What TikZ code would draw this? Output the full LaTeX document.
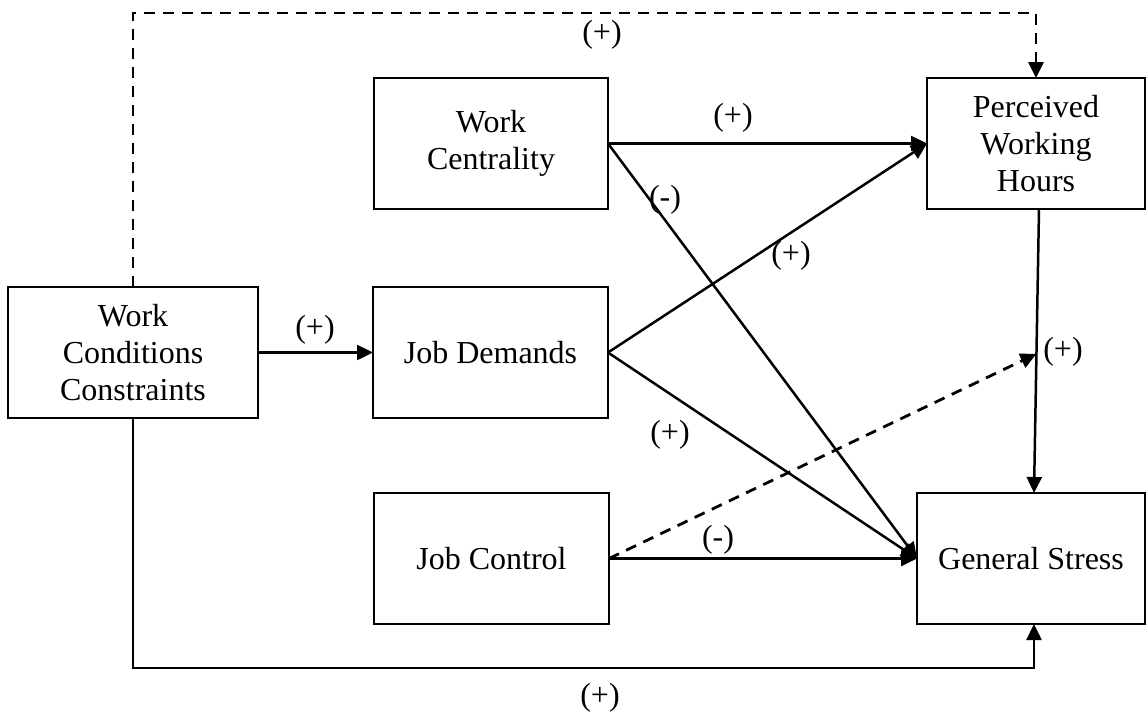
\documentclass[tikz,border=0pt]{standalone}
\usepackage{fontspec}
\setmainfont{Liberation Serif}
\usetikzlibrary{arrows.meta,calc}
\begin{document}
\begin{tikzpicture}[x=1pt,y=-1pt,
  every node/.style={font=\fontsize{32}{37}\selectfont, align=center, inner sep=0pt, outer sep=0pt},
  box/.style={draw, minimum height=131pt},
  boldbox/.style={box, line width=2.8pt},
  thinbox/.style={box, line width=1.6pt},
  link/.style={line width=2.5pt, -{Triangle[length=16pt,width=15pt]}},
  dlink/.style={link, line width=2.8pt, dash pattern=on 11pt off 8pt}
]
\useasboundingbox (0,0) rectangle (1146,716);

% variables
\node[boldbox, minimum width=250pt] (wcc) at (133,352.5) {Work\\Conditions\\Constraints};
\node[thinbox, minimum width=234pt] (wc)  at (491,143.5) {Work\\Centrality};
\node[boldbox, minimum width=235pt] (jd)  at (490.5,352.5) {Job Demands};
\node[boldbox, minimum width=235pt] (jc)  at (491.5,558.5) {Job Control};
\node[thinbox, minimum width=218pt] (pwh) at (1036,143.5) {Perceived\\Working\\Hours};
\node[thinbox, minimum width=228pt] (gs)  at (1031,558.5) {General Stress};

% helper levels for the routed paths
\coordinate (topy) at (0,13);
\coordinate (boty) at (0,668);

% direct effects
\draw[link] (wcc.east) -- (jd.west);
\draw[link] (wc.east) -- (pwh.west);
\draw[link] (wc.east) -- (gs.west);
\draw[link] (jd.east) -- (pwh.west);
\draw[link] (jd.east) -- (gs.west);
\draw[link] (jc.east) -- (gs.west);
\draw[link] ([xshift=3pt]pwh.south) -- ([xshift=3pt]gs.north);

% moderation of hours -> stress by job control
\coordinate (mid) at ($([xshift=3pt]pwh.south)!0.51!([xshift=3pt]gs.north)$);
\draw[dlink] (jc.east) -- (mid);

% routed paths from work conditions constraints
\draw[dlink] (wcc.north) -- (wcc.north |- topy) -| (pwh.north);
\draw[link] (wcc.south) -- (wcc.south |- boty) -| ([xshift=3pt]gs.south);

% signs
\node (s1) at (602,35)   {(+)};
\node (s2) at (315,330)  {(+)};
\node (s3) at (733,118)  {(+)};
\node (s4) at (665,200)  {(-)};
\node (s5) at (791,256)  {(+)};
\node (s6) at (670,435)  {(+)};
\node (s7) at (718,540)  {(-)};
\node (s8) at (1063,352) {(+)};
\node (s9) at (600,698)  {(+)};
\end{tikzpicture}
\end{document}
